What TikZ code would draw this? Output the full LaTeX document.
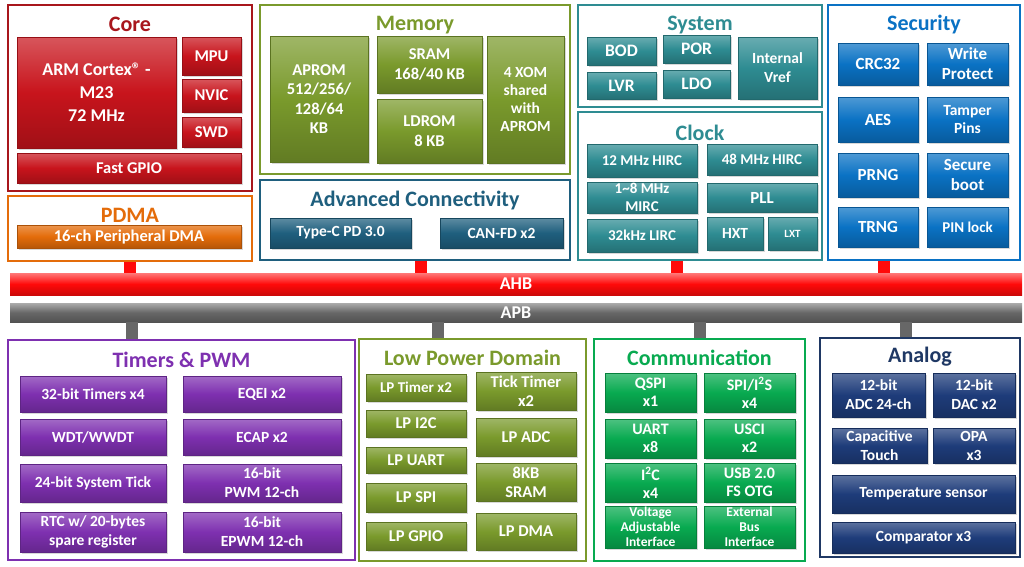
\documentclass[tikz,border=0pt]{standalone}
\usepackage{fontspec}
\setmainfont{Carlito}
\usepackage{xcolor}
\usetikzlibrary{shadows}
\definecolor{coreRed}{HTML}{A8161C}
\definecolor{coreFill}{HTML}{C8141C}
\definecolor{dmaOrange}{HTML}{E46C0A}
\definecolor{memOlive}{HTML}{7A9A2C}
\definecolor{connBlue}{HTML}{1F5F7E}
\definecolor{sysTeal}{HTML}{2E8C92}
\definecolor{secBlue}{HTML}{0A72C4}
\definecolor{tmrPurple}{HTML}{7E30B0}
\definecolor{comGreen}{HTML}{08AA50}
\definecolor{anaNavy}{HTML}{1F3864}
\definecolor{anaFill}{HTML}{1E3C7A}
\definecolor{busRed}{HTML}{FF0A0A}
\definecolor{busGray}{HTML}{676767}

\begin{document}
\begin{tikzpicture}[x=1pt,y=-1pt,
 fs/.style 2 args={font=\bfseries\fontsize{#1}{#2}\selectfont},
 grp/.style={draw=#1,line width=2.5pt,fill=white,inner sep=0pt},
 ttl/.style={text=#1,fs={22}{24},inner sep=0pt},
 blk/.style={draw=#1!75!black,line width=0.5pt,top color=#1!72!white,bottom color=#1!80!black,middle color=#1,
  text=white,align=center,inner sep=1pt,fs={15.5}{19},
  drop shadow={opacity=0.3,shadow xshift=1.5pt,shadow yshift=-1.5pt}},
 bus/.style={top color=#1!55!white,bottom color=#1!80!black,middle color=#1,text=white,fs={18}{20},inner sep=0pt},
 ahbstub/.style={draw=busRed,line width=12pt},
 apbstub/.style={draw=busGray,line width=12pt}]
\useasboundingbox (0,0) rectangle (1024,566);
% group frames
\node[grp=coreRed,minimum width=244,minimum height=186] (core) at (130,98) {};
\node[grp=dmaOrange,minimum width=244,minimum height=65] (pdma) at (130,228.5) {};
\node[grp=memOlive,minimum width=310,minimum height=169] (mem) at (415,89.5) {};
\node[grp=connBlue,minimum width=310,minimum height=80] (advc) at (415,220) {};
\node[grp=sysTeal,minimum width=244,minimum height=102] (sys) at (700,56) {};
\node[grp=sysTeal,minimum width=244,minimum height=148] (clk) at (700,186) {};
\node[grp=secBlue,minimum width=192,minimum height=255] (sec) at (924,132.5) {};
\node[grp=tmrPurple,minimum width=347,minimum height=220] (tmr) at (181.5,450) {};
\node[grp=memOlive,minimum width=227,minimum height=222] (lpd) at (472.5,450) {};
\node[grp=comGreen,minimum width=211,minimum height=222] (com) at (699.5,450) {};
\node[grp=anaNavy,minimum width=200,minimum height=219] (ana) at (920,447.5) {};
% titles
\node[ttl=coreRed] (coreT) at (130,24) {Core};
\node[ttl=dmaOrange] (pdmaT) at (130,215) {PDMA};
\node[ttl=memOlive] (memT) at (415,25) {Memory};
\node[ttl=connBlue] (advcT) at (415,200) {Advanced Connectivity};
\node[ttl=sysTeal] (sysT) at (700,25) {System};
\node[ttl=sysTeal] (clkT) at (700,133) {Clock};
\node[ttl=secBlue] (secT) at (924,25) {Security};
\node[ttl=tmrPurple] (tmrT) at (181.5,360) {Timers \& PWM};
\node[ttl=memOlive] (lpdT) at (472.5,358) {Low Power Domain};
\node[ttl=comGreen] (comT) at (699.5,358) {Communication};
\node[ttl=anaNavy] (anaT) at (920,357) {Analog};
% core
\node[blk=coreFill,fs={18}{23},minimum width=159,minimum height=111] (arm) at (96.5,92.5) {ARM Cortex® -\\M23\\72 MHz};
\node[blk=coreFill,fs={16.5}{19},minimum width=59,minimum height=38] (mpu) at (211.5,56) {MPU};
\node[blk=coreFill,fs={16.5}{19},minimum width=59,minimum height=33] (nvic) at (211.5,95.5) {NVIC};
\node[blk=coreFill,fs={16.5}{19},minimum width=59,minimum height=30] (swd) at (211.5,132) {SWD};
\node[blk=coreFill,fs={16.5}{19},minimum width=224,minimum height=30] (fgpio) at (129,168) {Fast GPIO};
\node[blk=dmaOrange,fs={16.5}{19},minimum width=224,minimum height=23] (dma) at (129,236.5) {16-ch Peripheral DMA};
% memory
\node[blk=memOlive,fs={16.5}{19.5},minimum width=98,minimum height=126] (aprom) at (319,99) {APROM\\512/256/\\128/64\\KB};
\node[blk=memOlive,fs={16.5}{19.5},minimum width=105,minimum height=57] (sram) at (429.5,64.5) {SRAM\\168/40 KB};
\node[blk=memOlive,fs={16.5}{19.5},minimum width=105,minimum height=64] (ldrom) at (429.5,131) {LDROM\\8 KB};
\node[blk=memOlive,fs={15.5}{18},minimum width=77,minimum height=127] (xom) at (525.5,99.5) {4 XOM\\shared\\with\\APROM};
\node[blk=connBlue,minimum width=141,minimum height=30] (typec) at (340.5,233) {Type-C PD 3.0};
\node[blk=connBlue,minimum width=123,minimum height=30] (canfd) at (501.5,233) {CAN-FD x2};
% system
\node[blk=sysTeal,fs={17.5}{20},minimum width=69,minimum height=28] (bod) at (621.5,51) {BOD};
\node[blk=sysTeal,fs={17.5}{20},minimum width=67,minimum height=28] (por) at (696.5,49) {POR};
\node[blk=sysTeal,fs={17.5}{20},minimum width=69,minimum height=27] (lvr) at (621.5,85.5) {LVR};
\node[blk=sysTeal,fs={17.5}{20},minimum width=67,minimum height=28] (ldo) at (696.5,84) {LDO};
\node[blk=sysTeal,minimum width=79,minimum height=62] (vref) at (777.5,68) {Internal\\Vref};
% clock
\node[blk=sysTeal,fs={15}{18},minimum width=110,minimum height=33] (hirc12) at (642,160.5) {12 MHz HIRC};
\node[blk=sysTeal,fs={15}{18},minimum width=110,minimum height=31] (hirc48) at (762,159.5) {48 MHz HIRC};
\node[blk=sysTeal,fs={15}{18},minimum width=110,minimum height=31] (mirc) at (642,197.5) {1\textasciitilde 8 MHz\\MIRC};
\node[blk=sysTeal,fs={17}{19},minimum width=110,minimum height=29] (pll) at (762,197.5) {PLL};
\node[blk=sysTeal,fs={15}{18},minimum width=110,minimum height=33] (lirc) at (642,235.5) {32kHz LIRC};
\node[blk=sysTeal,minimum width=56,minimum height=33] (hxt) at (735,233.5) {HXT};
\node[blk=sysTeal,fs={11}{13},minimum width=49,minimum height=33] (lxt) at (792.5,233.5) {LXT};
% security
\node[blk=secBlue,fs={17}{20},minimum width=80,minimum height=42] (crc) at (878,64) {CRC32};
\node[blk=secBlue,fs={17}{20},minimum width=81,minimum height=42] (wprot) at (967.5,64) {Write\\Protect};
\node[blk=secBlue,fs={17}{20},minimum width=80,minimum height=45] (aes) at (878,119.5) {AES};
\node[blk=secBlue,fs={15.5}{18},minimum width=81,minimum height=45] (tamper) at (967.5,119.5) {Tamper\\Pins};
\node[blk=secBlue,fs={17}{20},minimum width=80,minimum height=44] (prng) at (878,175) {PRNG};
\node[blk=secBlue,fs={17}{20},minimum width=81,minimum height=44] (sboot) at (967.5,175) {Secure\\boot};
\node[blk=secBlue,fs={17}{20},minimum width=80,minimum height=40] (trng) at (878,227) {TRNG};
\node[blk=secBlue,fs={15}{18},minimum width=81,minimum height=40] (pinlock) at (967.5,227) {PIN lock};
% buses
\node[bus=busRed,minimum width=1012,minimum height=22] (ahb) at (516,284) {AHB};
\node[bus=busGray,minimum width=1012,minimum height=19] (apb) at (516,312.5) {APB};
% timers & pwm
\node[blk=tmrPurple,minimum width=146,minimum height=36] (tmr32) at (93,394) {32-bit Timers x4};
\node[blk=tmrPurple,minimum width=158,minimum height=36] (eqei) at (262,394) {EQEI x2};
\node[blk=tmrPurple,minimum width=146,minimum height=36] (wdt) at (93,437) {WDT/WWDT};
\node[blk=tmrPurple,minimum width=158,minimum height=36] (ecap) at (262,437) {ECAP x2};
\node[blk=tmrPurple,minimum width=146,minimum height=38] (systick) at (93,483) {24-bit System Tick};
\node[blk=tmrPurple,minimum width=158,minimum height=38] (pwm) at (262,483) {16-bit\\PWM 12-ch};
\node[blk=tmrPurple,minimum width=146,minimum height=40] (rtc) at (93,532) {RTC w/ 20-bytes\\spare register};
\node[blk=tmrPurple,minimum width=158,minimum height=40] (epwm) at (262,532) {16-bit\\EPWM 12-ch};
% low power domain
\node[blk=memOlive,fs={15}{18},minimum width=100,minimum height=27] (lptmr) at (416,387.5) {LP Timer x2};
\node[blk=memOlive,fs={16.5}{19},minimum width=100,minimum height=27] (lpi2c) at (416,423.5) {LP I2C};
\node[blk=memOlive,fs={16.5}{19},minimum width=100,minimum height=26] (lpuart) at (416,460) {LP UART};
\node[blk=memOlive,fs={16.5}{19},minimum width=100,minimum height=29] (lpspi) at (416,497.5) {LP SPI};
\node[blk=memOlive,fs={16.5}{19},minimum width=100,minimum height=28] (lpgpio) at (416,536) {LP GPIO};
\node[blk=memOlive,fs={16.5}{19},minimum width=100,minimum height=38] (tick) at (526,391) {Tick Timer\\x2};
\node[blk=memOlive,fs={16.5}{19},minimum width=100,minimum height=38] (lpadc) at (526,437) {LP ADC};
\node[blk=memOlive,fs={16.5}{19},minimum width=100,minimum height=38] (lpsram) at (526,482) {8KB\\SRAM};
\node[blk=memOlive,fs={16.5}{19},minimum width=100,minimum height=37] (lpdma) at (526,531.5) {LP DMA};
% communication
\node[blk=comGreen,fs={16}{18},minimum width=91,minimum height=39] (qspi) at (650.5,392.5) {QSPI\\x1};
\node[blk=comGreen,fs={16}{18},minimum width=91,minimum height=39] (spii2s) at (749.5,392.5) {SPI/I\textsuperscript{2}S\\x4};
\node[blk=comGreen,fs={16}{18},minimum width=91,minimum height=39] (uart) at (650.5,438.5) {UART\\x8};
\node[blk=comGreen,fs={16}{18},minimum width=91,minimum height=39] (usci) at (749.5,438.5) {USCI\\x2};
\node[blk=comGreen,fs={16}{18},minimum width=91,minimum height=39] (i2c) at (650.5,482.5) {I\textsuperscript{2}C\\x4};
\node[blk=comGreen,fs={16}{18},minimum width=91,minimum height=39] (usb) at (749.5,482.5) {USB 2.0\\FS OTG};
\node[blk=comGreen,fs={13.5}{15},minimum width=91,minimum height=42] (vai) at (650.5,527) {Voltage\\Adjustable\\Interface};
\node[blk=comGreen,fs={13.5}{15},minimum width=91,minimum height=42] (ebi) at (749.5,527) {External\\Bus\\Interface};
% analog
\node[blk=anaFill,minimum width=93,minimum height=44] (adc) at (878.5,395) {12-bit\\ADC 24-ch};
\node[blk=anaFill,minimum width=82,minimum height=44] (dac) at (974,395) {12-bit\\DAC x2};
\node[blk=anaFill,minimum width=95,minimum height=35] (ctouch) at (879.5,445.5) {Capacitive\\Touch};
\node[blk=anaFill,minimum width=82,minimum height=35] (opa) at (974,445.5) {OPA\\x3};
\node[blk=anaFill,minimum width=183,minimum height=38] (temp) at (923.5,494) {Temperature sensor};
\node[blk=anaFill,minimum width=183,minimum height=31] (cmp) at (923.5,537.5) {Comparator x3};
% bus stubs
\draw[ahbstub] (pdma.south) -- (pdma.south |- ahb.north);
\draw[ahbstub] ([xshift=6]advc.south) -- ([xshift=6]advc.south |- ahb.north);
\draw[ahbstub] ([xshift=-23]clk.south) -- ([xshift=-23]clk.south |- ahb.north);
\draw[ahbstub] ([xshift=-40]sec.south) -- ([xshift=-40]sec.south |- ahb.north);
\draw[apbstub] ([xshift=-50]tmr.north) -- ([xshift=-50]tmr.north |- apb.south);
\draw[apbstub] ([xshift=-35]lpd.north) -- ([xshift=-35]lpd.north |- apb.south);
\draw[apbstub] (com.north) -- (com.north |- apb.south);
\draw[apbstub] ([xshift=-14]ana.north) -- ([xshift=-14]ana.north |- apb.south);
\end{tikzpicture}
\end{document}
